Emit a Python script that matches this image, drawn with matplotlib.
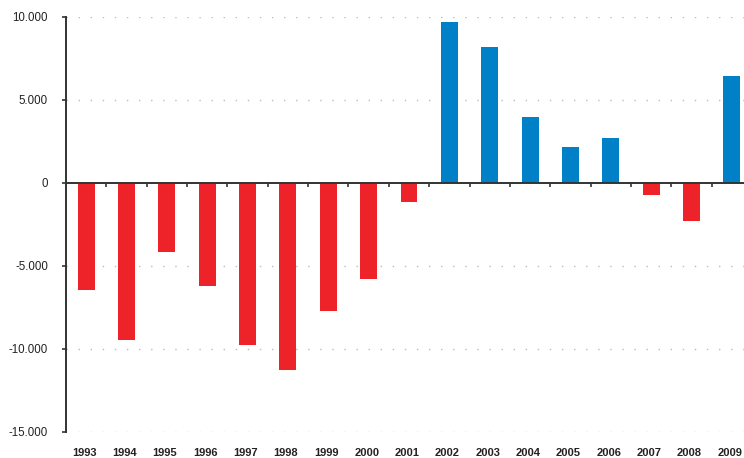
import matplotlib
matplotlib.use("Agg")
import matplotlib.pyplot as plt
from matplotlib.ticker import FuncFormatter, FixedLocator

plt.rcParams['font.family'] = ['Liberation Sans', 'DejaVu Sans']

# data
years = [1993, 1994, 1995, 1996, 1997, 1998, 1999, 2000, 2001,
         2002, 2003, 2004, 2005, 2006, 2007, 2008, 2009]
values = [-6430, -9440, -4140, -6230, -9780, -11290, -7730, -5810, -1170,
          9660, 8150, 3990, 2130, 2670, -750, -2270, 6460]
y_ticks = [-15000, -10000, -5000, 0, 5000, 10000]

RED = '#EE2229'
BLUE = '#0080C6'
DARK = '#333333'

fig = plt.figure(figsize=(7.44, 4.58), dpi=100)
# axes stretches a little past the right edge, as in the reference
ax = fig.add_axes([66 / 744, 1 - 432 / 458, (752 - 66) / 744, (432 - 16.7) / 458])

pos = list(range(len(years)))
colors = [BLUE if v >= 0 else RED for v in values]
ax.bar(pos, values, width=0.42, color=colors, zorder=3)

ax.set_xlim(-0.5, len(years) - 0.5)
ax.set_ylim(-15000, 10000)

# y axis
ax.yaxis.set_major_locator(FixedLocator(y_ticks))
ax.yaxis.set_major_formatter(FuncFormatter(lambda v, _: f"{int(v):,}".replace(',', '.')))
ax.tick_params(axis='y', direction='out', length=3, width=1.2, color=DARK,
               labelsize=8.3, labelcolor='#222222', pad=10)
for y in y_ticks:
    if y != 0:
        ax.axhline(y, color='#bbbbbb', linewidth=1.0, linestyle=(0, (1, 7.7)), zorder=1)

# x axis sits on zero, ticks between categories
ax.spines['bottom'].set_position(('data', 0))
ax.spines['top'].set_visible(False)
ax.spines['right'].set_visible(False)
for s in ('left', 'bottom'):
    ax.spines[s].set_color(DARK)
    ax.spines[s].set_linewidth(1.4)
ax.spines['bottom'].set_zorder(4)
ax.xaxis.set_major_locator(FixedLocator([p + 0.5 for p in pos[:-1]]))
ax.tick_params(axis='x', direction='out', length=3, width=1.2, color=DARK,
               labelbottom=False)

# year labels along the bottom of the plot area
sec = ax.secondary_xaxis('bottom')
sec.spines['bottom'].set_visible(False)
sec.set_xticks([p - 0.05 for p in pos])
sec.set_xticklabels([str(y) for y in years], fontweight='bold', fontsize=8,
                    color='#222222')
sec.tick_params(axis='x', length=0, pad=11.5)

fig.savefig('out.png', dpi=100)
